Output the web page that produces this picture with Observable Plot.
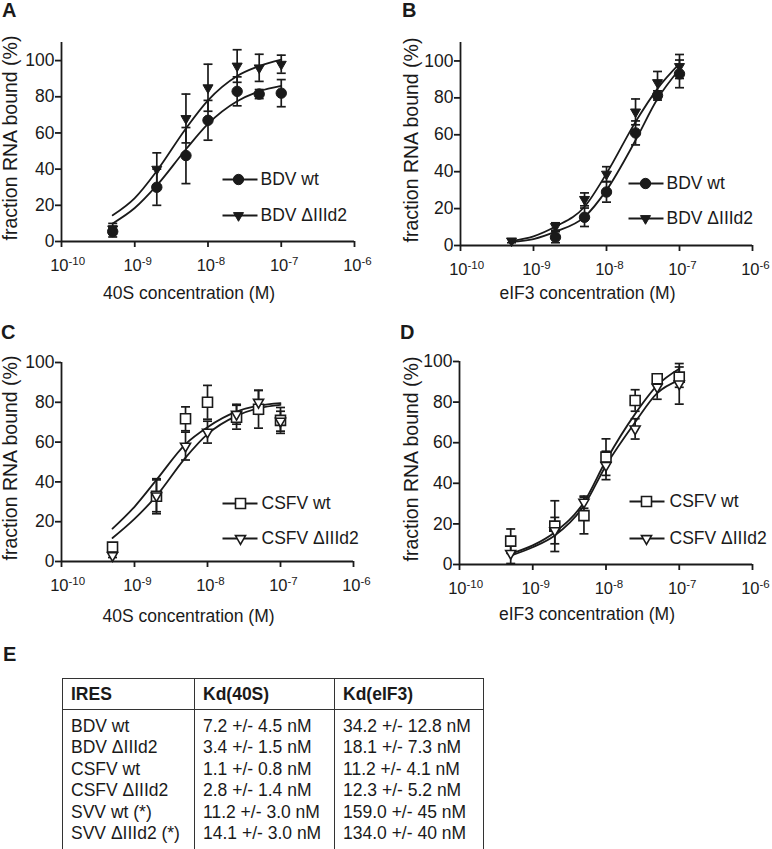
<!DOCTYPE html>
<html><head><meta charset="utf-8">
<script src="https://cdn.jsdelivr.net/npm/d3@7"></script>
<script src="https://cdn.jsdelivr.net/npm/@observablehq/plot@0.6"></script>
<style>
body{margin:0;background:#fff;}
#root{position:relative;width:772px;height:849px;font-family:"Liberation Sans",Arial,Helvetica,sans-serif;color:#1a1a1a;overflow:hidden;}
.panel{position:absolute;}
.letter{position:absolute;font-weight:bold;font-size:20px;line-height:1;}
#kd{position:absolute;left:62px;top:678px;border-collapse:collapse;font-size:17.5px;color:#1a1a1a;}
#kd th,#kd td{border:1.5px solid #333;text-align:left;padding:0 0 0 8px;vertical-align:top;}
#kd th{height:30px;vertical-align:middle;font-weight:bold;padding-top:0;}
#kd td{line-height:21.4px;padding-top:6px;padding-bottom:5px;}
</style></head><body><div id="root"></div>
<script>
// ---------- data ----------
const conc = [5e-10, 2e-9, 5e-9, 1e-8, 2.5e-8, 5e-8, 1e-7];          // measured concentrations (M)
const fitConc = [5e-10, 1e-9, 2e-9, 5e-9, 1e-8, 2.5e-8, 5e-8, 1e-7]; // points read on fitted curves
const xTicks = [1e-10, 1e-9, 1e-8, 1e-7, 1e-6];
const xTickBase = ["10", "10", "10", "10", "10"];
const xTickExp = ["-10", "-9", "-8", "-7", "-6"];
const yTicks = [0, 20, 40, 60, 80, 100];

// Panel A: BDV, 40S
const aWt = [5.5, 30, 47.5, 67, 83, 81.5, 82];
const aWtErr = [3, 10, 15.5, 11, 8, 2.5, 7.5];
const aDel = [7, 40, 68, 85, 97, 96, 98];
const aDelErr = [3, 9, 13.5, 13, 9, 7.5, 5];
const aWtFit = [10, 18.5, 31, 51, 65, 77.5, 83, 86];
const aDelFit = [14.5, 24, 39, 62.5, 78, 91.5, 97, 100.5];

// Panel B: BDV, eIF3
const bWt = [null, 4.5, 15.3, 29, 61, 81.3, 93];
const bWtErr = [0, 3, 5, 5.5, 6.5, 2.5, 7.5];
const bDel = [2.5, 10.3, 25, 38.7, 72.4, 88.3, 97];
const bDelErr = [1, 2, 3.5, 4, 7, 6, 6.5];
const bWtFit = [2, 3.5, 7.5, 15.5, 30, 57, 79.5, 95.5];
const bDelFit = [2.5, 5, 10.3, 21, 39, 67, 85, 98.5];

// Panel C: CSFV, 40S
const cWt = [7.2, 32.8, 71.7, 80, 72.5, 76.5, 70.9];
const cWtErr = [2, 8.8, 6, 8.5, 6, 9.5, 6.5];
const cDel = [3, 33, 58, 65, 74, 80, 70.5];
const cDelErr = [1, 8, 7, 5.5, 5, 6, 5];
const cWtFit = [16.5, 27.5, 41, 59, 67.5, 75.3, 78.3, 79.6];
const cDelFit = [11.8, 21.4, 33, 52.2, 64, 73.2, 77, 78.7];

// Panel D: CSFV, eIF3
const dWt = [11.5, 18.9, 24.1, 52.9, 80.8, 91.5, 92.3];
const dWtErr = [6, 12.5, 9, 9, 5.3, 1.5, 5];
const dDel = [5.5, 16.7, 30.7, 48.8, 66.8, 87.4, 89];
const dDelErr = [5, 6.5, 3, 7, 5, 6, 10];
const dWtFit = [5.3, 9.4, 15.9, 30.7, 51.2, 74.2, 88.2, 96.4];
const dDelFit = [4.4, 8.5, 14.3, 29, 48.8, 70.1, 84.4, 90.8];

const yLabel = "fraction RNA bound (%)";
const xLabels = ["40S concentration (M)", "eIF3 concentration (M)"];
const seriesNames = ["BDV wt", "BDV \u0394IIId2", "CSFV wt", "CSFV \u0394IIId2"];
const panelLetters = ["A", "B", "C", "D", "E"];

// Table E
const tableHead = ["IRES", "Kd(40S)", "Kd(eIF3)"];
const tableIRES = ["BDV wt", "BDV \u0394IIId2", "CSFV wt", "CSFV \u0394IIId2", "SVV wt (*)", "SVV \u0394IIId2 (*)"];
const tableKd40S = ["7.2 +/- 4.5 nM", "3.4 +/- 1.5 nM", "1.1 +/- 0.8 nM", "2.8 +/- 1.4 nM", "11.2 +/- 3.0 nM", "14.1 +/- 3.0 nM"];
const tableKdEIF3 = ["34.2 +/- 12.8 nM", "18.1 +/- 7.3 nM", "11.2 +/- 4.1 nM", "12.3 +/- 5.2 nM", "159.0 +/- 45 nM", "134.0 +/- 40 nM"];

// ---------- drawing ----------
const INK = "#1a1a1a";
const SW = 1.8;
const symCircle = {draw(c){ c.moveTo(5.2,0); c.arc(0,0,5.2,0,2*Math.PI); c.closePath(); }};
const symTriDown = {draw(c){ const R=5.8, h=R*Math.cos(Math.PI/6); c.moveTo(0,R); c.lineTo(-h,-R/2); c.lineTo(h,-R/2); c.closePath(); }};
const symSquare = {draw(c){ c.rect(-5,-5,10,10); }};
const symCap = {draw(c){ c.moveTo(-4.5,0); c.lineTo(4.5,0); }};
const symLegLine = {draw(c){ c.moveTo(-17.5,0); c.lineTo(17.5,0); }};

function pts(ys, es){ return conc.map((x,i)=>({x, y: ys[i], e: es[i]})).filter(d=>d.y!=null); }
function fit(ys){ return fitConc.map((x,i)=>({x, y: ys[i]})); }

function panel(cfg){
  const wt = pts(cfg.wt, cfg.wtErr), del = pts(cfg.del, cfg.delErr);
  const all = wt.concat(del);
  const wtFill = cfg.filled ? INK : "white";
  const legend = (row, name, sym) => [
    Plot.dot([0], {frameAnchor:"top-left", dx: cfg.leg.lx, dy: cfg.leg.dy[row], symbol: symLegLine, stroke: INK, strokeWidth: SW, fill:"none"}),
    Plot.dot([0], {frameAnchor:"top-left", dx: cfg.leg.mx, dy: cfg.leg.dy[row], symbol: sym, stroke: INK, strokeWidth: cfg.filled?1:1.6, fill: wtFill}),
    Plot.text([name], {text: d=>d, frameAnchor:"top-left", dx: cfg.leg.tx, dy: cfg.leg.dy[row], textAnchor:"start", lineAnchor:"middle", fontSize: 17.5, fill: INK})
  ];
  return Plot.plot({
    width: cfg.width, height: cfg.height,
    marginLeft: cfg.mL, marginRight: cfg.mR, marginTop: cfg.mT, marginBottom: cfg.mB,
    style: {fontFamily: '"Liberation Sans", Arial, Helvetica, sans-serif', background: "transparent", color: INK, overflow: "visible"},
    x: {type: "log", domain: [1e-10, 1e-6]},
    y: {domain: [0, cfg.yMax]},
    marks: [
      Plot.ruleX([1e-10], {stroke: INK, strokeWidth: SW}),
      Plot.ruleY([0], {stroke: INK, strokeWidth: SW}),
      Plot.axisY({ticks: yTicks, tickSize: 6, tickPadding: 1, fontSize: 17.5, stroke: INK, fill: INK, strokeWidth: SW, label: null}),
      Plot.axisX({ticks: xTicks, tickSize: 6, fill: "none", stroke: INK, strokeWidth: SW, label: null}),
      Plot.text(xTicks, {x: d=>d, text: (d,i)=>xTickBase[i], frameAnchor: "bottom", dy: 24, dx: 7, textAnchor: "end", lineAnchor: "middle", fontSize: 16.5, fill: INK}),
      Plot.text(xTicks, {x: d=>d, text: (d,i)=>xTickExp[i], frameAnchor: "bottom", dy: 20, dx: 7, textAnchor: "start", lineAnchor: "middle", fontSize: 11.5, fill: INK}),
      Plot.text([cfg.xLabel], {text: d=>d, frameAnchor: "bottom", dy: cfg.xlDy, dx: -19, textAnchor: "middle", lineAnchor: "middle", fontSize: 17.5, fill: INK}),
      Plot.text([yLabel], {text: d=>d, frameAnchor: "left", rotate: -90, dx: cfg.ylDx, dy: -4, textAnchor: "middle", lineAnchor: "middle", fontSize: 19.5, fill: INK}),
      Plot.line(fit(cfg.wtFit), {x: "x", y: "y", curve: "monotone-x", stroke: INK, strokeWidth: SW}),
      Plot.line(fit(cfg.delFit), {x: "x", y: "y", curve: "monotone-x", stroke: INK, strokeWidth: SW}),
      Plot.ruleX(all, {x: "x", y1: d=>d.y-d.e, y2: d=>d.y+d.e, stroke: INK, strokeWidth: 1.7}),
      Plot.dot(all, {x: "x", y: d=>d.y+d.e, symbol: symCap, stroke: INK, strokeWidth: 1.7, fill: "none"}),
      Plot.dot(all, {x: "x", y: d=>d.y-d.e, symbol: symCap, stroke: INK, strokeWidth: 1.7, fill: "none"}),
      Plot.dot(wt, {x: "x", y: "y", symbol: cfg.wtSym, stroke: INK, strokeWidth: cfg.filled?1:1.6, fill: wtFill}),
      Plot.dot(del, {x: "x", y: "y", symbol: symTriDown, stroke: INK, strokeWidth: cfg.filled?1:1.6, fill: wtFill}),
      ...legend(0, cfg.names[0], cfg.wtSym),
      ...legend(1, cfg.names[1], symTriDown)
    ]
  });
}

const root = document.getElementById("root");
const panels = [
  {pos:[0,0], width:386, height:310, mL:61, mR:32, mT:42, mB:69, yMax:110, wt:aWt, wtErr:aWtErr, del:aDel, delErr:aDelErr, wtFit:aWtFit, delFit:aDelFit,
   filled:true, wtSym:symCircle, names:[seriesNames[0], seriesNames[1]], xLabel:xLabels[0], xlDy:52, ylDx:-51,
   leg:{lx:178.5, mx:177, tx:199, dy:[137,173]}},
  {pos:[386,0], width:386, height:310, mL:74, mR:20, mT:42, mB:65, yMax:110, wt:bWt, wtErr:bWtErr, del:bDel, delErr:bDelErr, wtFit:bWtFit, delFit:bDelFit,
   filled:true, wtSym:symCircle, names:[seriesNames[0], seriesNames[1]], xLabel:xLabels[1], xlDy:48, ylDx:-49,
   leg:{lx:185.5, mx:185, tx:206, dy:[141,176]}},
  {pos:[0,310], width:386, height:320, mL:61, mR:33, mT:52, mB:69, yMax:100, wt:cWt, wtErr:cWtErr, del:cDel, delErr:cDelErr, wtFit:cWtFit, delFit:cDelFit,
   filled:false, wtSym:symSquare, names:[seriesNames[2], seriesNames[3]], xLabel:xLabels[0], xlDy:55, ylDx:-51,
   leg:{lx:178.5, mx:179, tx:200, dy:[141,176]}},
  {pos:[386,310], width:386, height:320, mL:73, mR:20, mT:51, mB:66, yMax:100, wt:dWt, wtErr:dWtErr, del:dDel, delErr:dDelErr, wtFit:dWtFit, delFit:dDelFit,
   filled:false, wtSym:symSquare, names:[seriesNames[2], seriesNames[3]], xLabel:xLabels[1], xlDy:50, ylDx:-48,
   leg:{lx:187.5, mx:187, tx:210, dy:[140,177]}}
];
for (const cfg of panels){
  const wrap = document.createElement("div");
  wrap.className = "panel";
  wrap.style.left = cfg.pos[0] + "px";
  wrap.style.top = cfg.pos[1] + "px";
  wrap.appendChild(panel(cfg));
  root.appendChild(wrap);
}

// panel letters
const letterPos = [[2,0],[402,0],[1,322],[400,322],[3,644]];
panelLetters.forEach((L,i)=>{
  const d = document.createElement("div");
  d.className = "letter";
  d.textContent = L;
  d.style.left = letterPos[i][0] + "px";
  d.style.top = letterPos[i][1] + "px";
  root.appendChild(d);
});

// table E
const tbl = document.createElement("table");
tbl.id = "kd";
const colW = [131, 139, 148];
const hr = document.createElement("tr");
tableHead.forEach((h,i)=>{ const th=document.createElement("th"); th.textContent=h; th.style.width=(colW[i]-8)+"px"; hr.appendChild(th); });
tbl.appendChild(hr);
const br = document.createElement("tr");
[tableIRES, tableKd40S, tableKdEIF3].forEach(col=>{
  const td = document.createElement("td");
  col.forEach((t,j)=>{ if(j) td.appendChild(document.createElement("br")); td.appendChild(document.createTextNode(t)); });
  br.appendChild(td);
});
tbl.appendChild(br);
root.appendChild(tbl);
</script></body></html>
